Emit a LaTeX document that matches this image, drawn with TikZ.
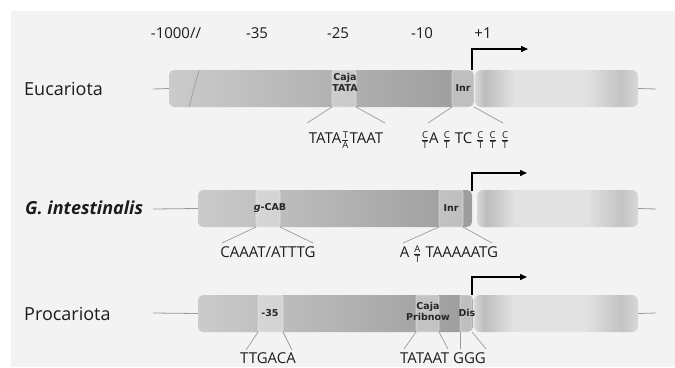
\documentclass[tikz,border=0pt]{standalone}
\usepackage{fontspec}
\setmainfont{Open Sans}
\newfontfamily\boxfont{DejaVu Sans}
\usetikzlibrary{arrows.meta}

\definecolor{bgpanel}{HTML}{F3F3F3}
\definecolor{barlight}{HTML}{CBCBCB}
\definecolor{bardark}{HTML}{9C9C9C}
\definecolor{leadline}{HTML}{9A9A9A}
\definecolor{txt}{HTML}{1C1C1C}
\definecolor{exA}{HTML}{D8D8D8}
\definecolor{exB}{HTML}{BDBDBD}
\definecolor{exC}{HTML}{E2E2E2}
\definecolor{exD}{HTML}{C3C3C3}

% blurred exon body: dark rim on the left, light middle, dark rim on the right
\pgfdeclarehorizontalshading{exonfade}{100bp}{%
  color(0bp)=(exA); color(25bp)=(exA); color(28bp)=(exB); color(37bp)=(exC);
  color(59bp)=(exC); color(70bp)=(exD); color(75bp)=(exA); color(100bp)=(exA)}

% stacked alternative bases
\newcommand\stk[2]{$\frac{\mbox{\fontsize{9.5}{9.5}\selectfont #1}}{\mbox{\fontsize{9.5}{9.5}\selectfont #2}}$}

\begin{document}
\begin{tikzpicture}[x=1pt,y=-1pt,
  rowlab/.style={font=\fontsize{18}{20}\selectfont, text=txt, anchor=west, inner sep=0},
  toplab/.style={font=\fontsize{15}{17}\selectfont, text=txt, inner sep=0},
  seqlab/.style={font=\fontsize{15}{17}\selectfont, text=txt, inner sep=0},
  tag/.style={font=\boxfont\bfseries\fontsize{9.5}{11}\selectfont, text=black!85, inner sep=0, align=center},
  bar/.style={inner sep=0, outer sep=0, anchor=north west, rounded corners=5pt,
    minimum height=37pt, left color=barlight, right color=bardark},
  exon/.style={inner sep=0, outer sep=0, anchor=north west, rounded corners=6pt,
    minimum height=37pt, shade, shading=exonfade},
  site/.style={inner sep=0, outer sep=0, anchor=north west, rounded corners=2pt,
    minimum height=37pt, fill=white, fill opacity=0.35, draw=white, draw opacity=0.45, line width=0.6pt},
  lead/.style={draw=leadline, line width=0.7pt},
  stub/.style={draw=leadline, line width=0.8pt},
  tss/.style={draw=black, line width=1.4pt, -{Triangle[length=7pt,width=6pt]}}]

\useasboundingbox (0,0) rectangle (675,367);
\fill[white] (0,0) rectangle (675,367);
\fill[bgpanel] (11,11) rectangle (675,367);

% position scale
\node[toplab] (p1000) at (176,33) {-1000//};
\node[toplab] (p35) at (257,33) {-35};
\node[toplab] (p25) at (338,33) {-25};
\node[toplab] (p10) at (422,33) {-10};
\node[toplab] (p1) at (483,33) {+1};

% ---------------- Eucariota ----------------
\node[rowlab] (lblEu) at (24,89) {Eucariota};
\node[bar, minimum width=305pt] (euL) at (169,70) {};
\draw[leadline, line width=0.7pt] (199,70) -- (189,107);
\node[site, minimum width=24pt] (euTATA) at (332,70) {};
\node[site, minimum width=22pt] (euInr) at (452,70) {};
\node[exon, minimum width=163pt] (euR) at (475,70) {};
\coordinate (euStubL) at (153,89);
\coordinate (euStubR) at (656,89);
\draw[stub] (euStubL) -- (euL.west);
\draw[stub] (euR.east) -- (euStubR);
\node[tag] (euTATAtag) at (345,82.5) {Caja\\TATA};
\node[tag] (euInrtag) at (463,88) {Inr};
\coordinate (euTSS) at (472,70);
\coordinate (euTSSend) at (528,49);
\draw[tss] (euTSS) |- (euTSSend);
\coordinate (euA1) at (307,123);
\coordinate (euA2) at (385,123);
\coordinate (euB1) at (428,123);
\coordinate (euB2) at (503,123);
\draw[lead] (euTATA.south west) -- (euA1);
\draw[lead] (euTATA.south east) -- (euA2);
\draw[lead] (euInr.south west) -- (euB1);
\draw[lead] (euInr.south east) -- (euB2);
\node[seqlab] (euTATAseq) at (346,140) {TATA\stk{T}{A}TAAT};
\node[seqlab] (euInrseq) at (465,140) {\stk{C}{T}A \stk{C}{T} TC \stk{C}{T} \stk{C}{T} \stk{C}{T}};

% ---------------- G. intestinalis ----------------
\node[rowlab] (lblGi) at (25,208) {\bfseries\itshape G. intestinalis};
\node[bar, minimum width=274pt] (giL) at (198,190) {};
\node[site, minimum width=24pt] (giCAB) at (256,190) {};
\node[site, minimum width=24pt] (giInr) at (439,190) {};
\node[exon, minimum width=161pt] (giR) at (477,190) {};
\coordinate (giStubL) at (153,209);
\coordinate (giStubR) at (656,209);
\draw[stub] (giStubL) -- (giL.west);
\draw[stub] (giR.east) -- (giStubR);
\node[tag] (giCABtag) at (270,208) {\itshape g\upshape-CAB};
\node[tag] (giInrtag) at (451,208) {Inr};
\coordinate (giTSS) at (472,191);
\coordinate (giTSSend) at (527,173);
\draw[tss] (giTSS) |- (giTSSend);
\coordinate (giA1) at (222,243);
\coordinate (giA2) at (313,243);
\coordinate (giB1) at (403,243);
\coordinate (giB2) at (492,243);
\draw[lead] (giCAB.south west) -- (giA1);
\draw[lead] (giCAB.south east) -- (giA2);
\draw[lead] (giInr.south west) -- (giB1);
\draw[lead] (giInr.south east) -- (giB2);
\node[seqlab] (giCABseq) at (268,252) {CAAAT/ATTTG};
\node[seqlab] (giInrseq) at (449,254) {A \stk{A}{T} TAAAAATG};

% ---------------- Procariota ----------------
\node[rowlab] (lblPr) at (24,314) {Procariota};
\node[bar, minimum width=275pt] (prL) at (198,295) {};
\node[site, minimum width=25pt] (pr35) at (258,295) {};
\node[site, minimum width=23pt] (prPrib) at (416,295) {};
\node[site, minimum width=12pt] (prDis) at (460,295) {};
\node[exon, minimum width=164pt] (prR) at (474,295) {};
\coordinate (prStubL) at (153,313);
\coordinate (prStubR) at (656,313);
\draw[stub] (prStubL) -- (prL.west);
\draw[stub] (prR.east) -- (prStubR);
\node[tag] (pr35tag) at (270,313) {-35};
\node[tag] (prPribtag) at (428,311) {Caja\\Pribnow};
\node[tag] (prDistag) at (467,313) {Dis};
\coordinate (prTSS) at (472,295);
\coordinate (prTSSend) at (527,277);
\draw[tss] (prTSS) |- (prTSSend);
\coordinate (prA1) at (246,350);
\coordinate (prA2) at (292,350);
\coordinate (prB1) at (404,349);
\coordinate (prB2) at (448,349);
\coordinate (prC1) at (460,349);
\coordinate (prC2) at (486,349);
\draw[lead] (pr35.south west) -- (prA1);
\draw[lead] (pr35.south east) -- (prA2);
\draw[lead] (prPrib.south west) -- (prB1);
\draw[lead] (prPrib.south east) -- (prB2);
\draw[lead] (prDis.south west) -- (prC1);
\draw[lead] (prDis.south east) -- (prC2);
\node[seqlab] (pr35seq) at (268,358) {TTGACA};
\node[seqlab] (prPribseq) at (443,358.5) {TATAAT GGG};
\end{tikzpicture}
\end{document}
